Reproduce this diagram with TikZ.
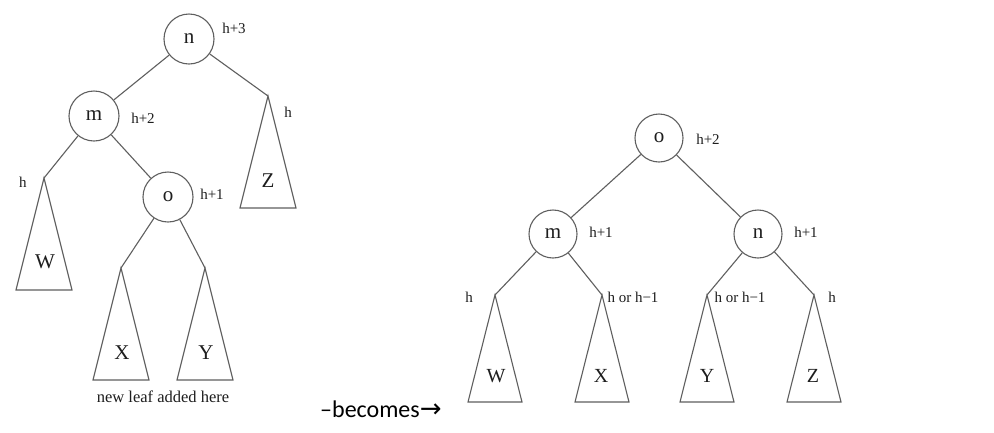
\documentclass[tikz,border=0pt]{standalone}
\usepackage{fontspec}
\setmainfont{Liberation Serif}
\newfontfamily\capfont{Carlito}
\newfontfamily\symfont{DejaVu Sans}
\definecolor{linegray}{RGB}{95,95,95}
\definecolor{inkgray}{RGB}{30,30,30}
\begin{document}
\begin{tikzpicture}[x=1pt,y=-1pt,
  edge/.style={draw=linegray, line width=1.1pt},
  keynode/.style={circle, draw=linegray, line width=1.1pt, minimum size=50pt,
    inner sep=0pt, text=inkgray, font=\fontsize{21}{21}\selectfont},
  smallkey/.style={keynode, minimum size=48pt},
  hlabel/.style={inner sep=0pt, text=inkgray, font=\fontsize{15}{15}\selectfont},
  subtree/.style={draw=linegray, line width=1.1pt, line join=miter},
  treename/.style={inner sep=0pt, text=inkgray, font=\fontsize{21}{21}\selectfont}]
  \fill[white] (0,0) rectangle (994,432);
  \useasboundingbox (0,0) rectangle (994,432);

  % ---------- tree before the rotation ----------
  \node[keynode] (n1) at (189,39) {n};
  \node[keynode] (m1) at (94,116) {m};
  \node[keynode] (o1) at (168,197) {o};
  \coordinate (W1) at (44,178);
  \coordinate (Z1) at (268,96);
  \coordinate (X1) at (121,268);
  \coordinate (Y1) at (205,268);

  \draw[edge] (n1) -- (m1);
  \draw[edge] (n1) -- (Z1);
  \draw[edge] (m1) -- (W1);
  \draw[edge] (m1) -- (o1);
  \draw[edge] (o1) -- (X1);
  \draw[edge] (o1) -- (Y1);

  \foreach \t in {W1,Z1,X1,Y1}
    \draw[subtree] (\t) -- ++(-28,112) -- ++(56,0) -- cycle;

  \node[treename] (W1name) at (45,262) {W};
  \node[treename] (Z1name) at (268,181) {Z};
  \node[treename] (X1name) at (122,353) {X};
  \node[treename] (Y1name) at (206,353) {Y};

  \node[hlabel] (n1h) at (234,28) {h+3};
  \node[hlabel] (m1h) at (143,118) {h+2};
  \node[hlabel] (o1h) at (212,194) {h+1};
  \node[hlabel] (Z1h) at (288,112) {h};
  \node[hlabel] (W1h) at (23,182) {h};
  \node[hlabel, font=\fontsize{16.5}{16.5}\selectfont] (leafnote) at (163,397) {new leaf added here};

  % ---------- caption between the trees ----------
  \node[inner sep=0pt, anchor=base west, font=\capfont\fontsize{24}{24}\selectfont]
    (becomes) at (320,417) {–becomes{\symfont\fontsize{26}{26}\selectfont →}};

  % ---------- tree after the rotation ----------
  \node[smallkey] (o2) at (659,138) {o};
  \node[smallkey] (m2) at (553,234) {m};
  \node[smallkey] (n2) at (758,234) {n};
  \coordinate (W2) at (495,295);
  \coordinate (X2) at (602,295);
  \coordinate (Y2) at (707,295);
  \coordinate (Z2) at (814,295);

  \draw[edge] (o2) -- (m2);
  \draw[edge] (o2) -- (n2);
  \draw[edge] (m2) -- (W2);
  \draw[edge] (m2) -- (X2);
  \draw[edge] (n2) -- (Y2);
  \draw[edge] (n2) -- (Z2);

  \foreach \t in {W2,X2,Y2,Z2}
    \draw[subtree] (\t) -- ++(-27,107) -- ++(54,0) -- cycle;

  \node[treename, font=\fontsize{20}{20}\selectfont] (W2name) at (496,376) {W};
  \node[treename, font=\fontsize{20}{20}\selectfont] (X2name) at (601,376) {X};
  \node[treename, font=\fontsize{20}{20}\selectfont] (Y2name) at (707,376) {Y};
  \node[treename, font=\fontsize{20}{20}\selectfont] (Z2name) at (813,376) {Z};

  \node[hlabel] (o2h) at (708,139) {h+2};
  \node[hlabel] (m2h) at (601,232) {h+1};
  \node[hlabel] (n2h) at (806,232) {h+1};
  \node[hlabel] (W2h) at (469,297) {h};
  \node[hlabel] (X2h) at (633,297) {h or h−1};
  \node[hlabel] (Y2h) at (740,297) {h or h−1};
  \node[hlabel] (Z2h) at (832,297) {h};
\end{tikzpicture}
\end{document}
